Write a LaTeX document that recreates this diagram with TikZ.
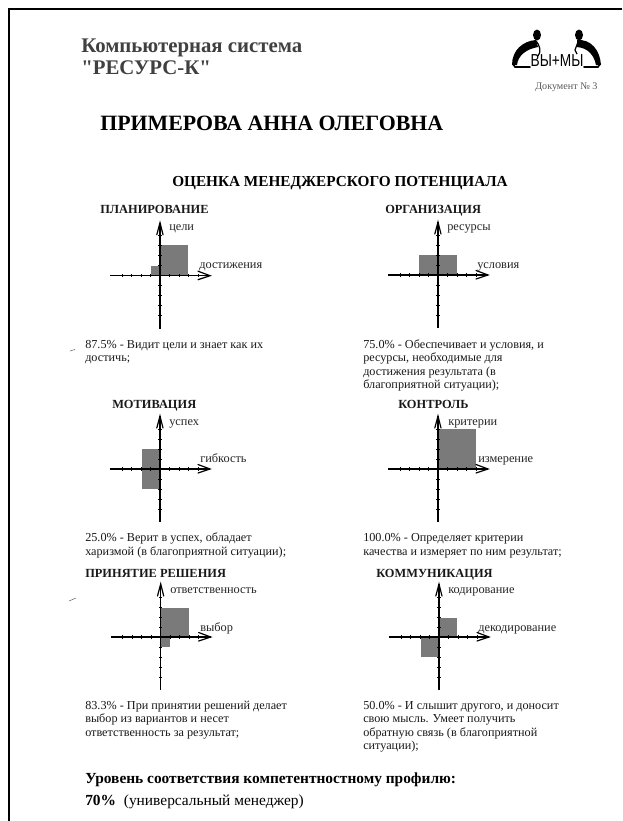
\documentclass[tikz,border=0pt]{standalone}
\usepackage{graphicx}
\usepackage{fontspec}
\setmainfont{Liberation Serif}
\newfontfamily\rawserif{Liberation Serif}
\newfontfamily\logosans{Liberation Sans}
\newcommand{\fl}{\rule{0pt}{8pt}}
\begin{document}
\begin{tikzpicture}[x=0.75pt,y=-0.75pt,
  axisline/.style={line width=0.95pt,black},
  tick/.style={line width=0.7pt,black},
  axistip/.style={line width=0.9pt,black,line cap=round},
  cell/.style={fill=black!52},
  head/.style={font=\bfseries\fontsize{9.3pt}{11pt}\selectfont,anchor=base west,inner sep=0pt,text=black!90},
  lab/.style={font=\fontsize{9.25pt}{10pt}\selectfont,anchor=base west,inner sep=0pt,text=black!85},
  desc/.style={font=\fontsize{9.15pt}{10.05pt}\selectfont,anchor=north west,inner sep=0pt,align=left,text=black!90},
  ink/.style={fill=black,draw=none},
  speck/.style={line width=0.4pt,black!60}]
\useasboundingbox (0,0) rectangle (622,821);
\fill[white] (0,0) rectangle (622,821);
% frame
\draw[line width=1.6pt] (9,821) -- (9,9) -- (622,9);
% header
\node[font=\rawserif\bfseries\fontsize{15.6pt}{16.5pt}\selectfont,anchor=north west,inner sep=0pt,align=left,text=black!75] (sys) at (81,38.5) {Компьютерная система\\"РЕСУРС-К"};
\node[font=\fontsize{7.6pt}{8pt}\selectfont,anchor=west,inner sep=0pt,text=black!65] (doc) at (535,87) {Документ № 3};
\node[font=\bfseries\fontsize{16.4pt}{18pt}\selectfont,anchor=west,inner sep=0pt] (name) at (100,123) {ПРИМЕРОВА АННА ОЛЕГОВНА};
\node[font=\bfseries\fontsize{11.45pt}{13pt}\selectfont,anchor=base west,inner sep=0pt] (title) at (172,186) {ОЦЕНКА МЕНЕДЖЕРСКОГО ПОТЕНЦИАЛА};
% logo
\node[font=\logosans\fontsize{13pt}{14pt}\selectfont,inner sep=0pt,anchor=center] (logo) at (557,61) {\scalebox{0.79}[1]{ВЫ+МЫ}};
\fill[ink] (537,35) ellipse (4 and 5.5);
\fill[ink] (579,35) ellipse (4 and 5.5);
\fill[ink] (536,40) .. controls (523,41) and (512,50) .. (512,65) -- (517,65) .. controls (518,55) and (527,49) .. (538,47) -- cycle;
\draw[line width=1.2pt,line cap=round] (513,64) -- (515,67) -- (530,67);
\draw[line width=0.9pt] (535,40) .. controls (541,46) and (541,52) .. (538,56);
\fill[ink] (577,40) .. controls (591,39) and (600,50) .. (601,65) -- (596,65) .. controls (594,55) and (588,48) .. (577,47) -- cycle;
\draw[line width=1.2pt,line cap=round] (600,64) -- (598,67) -- (584,67);
\draw[line width=0.9pt] (578,42) -- (575,50) -- (577,54);
% scan specks
\draw[speck] (70,351) -- (75,349.5);
\draw[speck] (69,601) -- (76,598);
% filled cells
\fill[cell] (160,245) rectangle (188,276);
\fill[cell] (150.5,265.5) rectangle (160,276);
\fill[cell] (419,255) rectangle (456.7,275);
\fill[cell] (141.7,449) rectangle (160,489);
\fill[cell] (438,429) rectangle (475.7,469);
\fill[cell] (160.7,607.7) rectangle (188.7,637);
\fill[cell] (160.7,637) rectangle (170,647);
\fill[cell] (439,617.5) rectangle (457,637);
\fill[cell] (420.7,637) rectangle (439,657);
% axes
\foreach \ox/\oy in {160/275.7,438/275,160/469,438/469,160.7/637,439/637}{
  \coordinate (w) at (\ox-50,\oy);
  \coordinate (e) at (\ox+50,\oy);
  \coordinate (n) at (\ox,\oy-53);
  \coordinate (s) at (\ox,\oy+53);
  \draw[axisline] (w) -- (e);
  \draw[axisline] (s) -- (n);
  \draw[axistip] (\ox+38,\oy-4.5) -- (e) -- (\ox+38,\oy+4);
  \draw[axistip] (\ox-3.2,\oy-41) -- (n) -- (\ox+3,\oy-41);
  \foreach \k in {-4,-3,-2,-1,1,2,3,4}{
    \draw[tick] (\ox+\k*9.5,\oy-1.7) -- (\ox+\k*9.5,\oy+1.7);
    \draw[tick] (\ox-1.7,\oy+\k*10) -- (\ox+1.7,\oy+\k*10);
  }
}
% headings
\node[head] (h1) at (100,213) {ПЛАНИРОВАНИЕ};
\node[head] (h2) at (385,213) {ОРГАНИЗАЦИЯ};
\node[head] (h3) at (112,408) {МОТИВАЦИЯ};
\node[head] (h4) at (398,408) {КОНТРОЛЬ};
\node[head] (h5) at (85,577) {ПРИНЯТИЕ РЕШЕНИЯ};
\node[head] (h6) at (376,577) {КОММУНИКАЦИЯ};
% axis labels
\node[lab] (a1) at (169,230.5) {цели};
\node[lab] (b1) at (199,268.5) {достижения};
\node[lab] (a2) at (447,230) {ресурсы};
\node[lab] (b2) at (477,268) {условия};
\node[lab] (a3) at (169,425) {успех};
\node[lab] (b3) at (200,462) {гибкость};
\node[lab] (a4) at (448,425) {критерии};
\node[lab] (b4) at (478,462) {измерение};
\node[lab] (a5) at (170,593) {ответственность};
\node[lab] (b5) at (200,631) {выбор};
\node[lab] (a6) at (448,593) {кодирование};
\node[lab] (b6) at (478,631) {декодирование};
% descriptions
\node[desc] (d1) at (85,337.3) {\fl 87.5\% - Видит цели и знает как их\\достичь;};
\node[desc] (d2) at (363,337.3) {\fl 75.0\% - Обеспечивает и условия, и\\ресурсы, необходимые для\\достижения результата (в\\благоприятной ситуации);};
\node[desc] (d3) at (85,531) {\fl 25.0\% - Верит в успех, обладает\\харизмой (в благоприятной ситуации);};
\node[desc] (d4) at (363,531) {\fl 100.0\% - Определяет критерии\\качества и измеряет по ним результат;};
\node[desc] (d5) at (85,698.3) {\fl 83.3\% - При принятии решений делает\\выбор из вариантов и несет\\ответственность за результат;};
\node[desc] (d6) at (363,698.3) {\fl 50.0\% - И слышит другого, и доносит\\свою мысль. Умеет получить\\обратную связь (в благоприятной\\ситуации);};
% footer
\node[font=\bfseries\fontsize{11.55pt}{13pt}\selectfont,anchor=base west,inner sep=0pt] (f1) at (85,783) {Уровень соответствия компетентностному профилю:};
\node[font=\fontsize{11.55pt}{13pt}\selectfont,anchor=base west,inner sep=0pt] (f2) at (85,805) {\textbf{70\%}\hspace{3pt} (универсальный менеджер)};
\end{tikzpicture}
\end{document}
